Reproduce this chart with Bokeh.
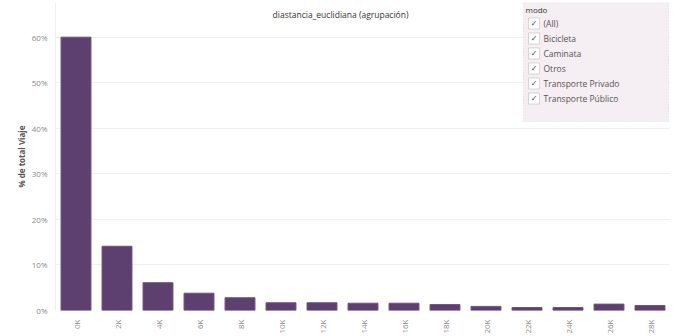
from bokeh.plotting import figure
from bokeh.models import (ColumnDataSource, Label, BoxAnnotation, FixedTicker,
                          PrintfTickFormatter, Range1d)
from bokeh.embed import file_html
from bokeh.resources import INLINE
import math

# ---- data ----
categories = ["0K", "2K", "4K", "6K", "8K", "10K", "12K", "14K", "16K",
              "18K", "20K", "22K", "24K", "26K", "28K"]
pct_viaje = [60.0, 14.1, 6.1, 3.8, 2.8, 1.7, 1.7, 1.6, 1.6,
             1.3, 0.9, 0.65, 0.65, 1.4, 1.1]
y_ticks = [0, 10, 20, 30, 40, 50, 60]
chart_title = "diastancia_euclidiana (agrupación)"
y_title = "% de total Viaje"
legend_title = "modo"
legend_items = ["(All)", "Bicicleta", "Caminata", "Otros",
                "Transporte Privado", "Transporte Público"]

FONT = "Open Sans"
W, H = 673, 336
left, right, top, bottom = 55, 3, 2, 23
frame_h = H - top - bottom
frame_bottom = H - bottom
px_per_pct = 4.6


def sx(x):
    return x - left


def sy(y):
    return frame_bottom - y


src = ColumnDataSource(dict(cat=categories, val=pct_viaje))

p = figure(width=W, height=H, x_range=categories,
           y_range=Range1d(0, frame_h / px_per_pct),
           output_backend="svg", toolbar_location=None,
           min_border_left=left, min_border_right=right,
           min_border_top=top, min_border_bottom=bottom)
p.outline_line_color = None
p.background_fill_color = "white"

p.vbar(x="cat", top="val", width=0.73, source=src,
       fill_color="#5e4070", line_color="#6e5280", line_width=1)

# axes
p.yaxis.ticker = FixedTicker(ticks=y_ticks)
p.yaxis.formatter = PrintfTickFormatter(format="%d%%")
p.yaxis.axis_line_color = "#f0f0f0"
p.yaxis.major_tick_line_color = None
p.yaxis.minor_tick_line_color = None
p.yaxis.major_label_text_font = FONT
p.yaxis.major_label_text_font_size = "8px"
p.yaxis.major_label_text_color = "#8a8a8a"
p.yaxis.major_label_standoff = 2
p.yaxis.axis_label = y_title
p.yaxis.axis_label_text_font = FONT
p.yaxis.axis_label_text_font_size = "8px"
p.yaxis.axis_label_text_font_style = "bold"
p.yaxis.axis_label_text_color = "#555555"
p.yaxis.axis_label_standoff = 2

p.xaxis.axis_line_color = None
p.xaxis.major_tick_line_color = None
p.xaxis.minor_tick_line_color = None
p.xaxis.major_label_orientation = math.pi / 2
p.xaxis.major_label_text_font = FONT
p.xaxis.major_label_text_font_size = "8px"
p.xaxis.major_label_text_color = "#8a8a8a"
p.xaxis.major_label_standoff = 3

p.xgrid.grid_line_color = None
p.ygrid.grid_line_color = "#f0f0f0"
p.ygrid.grid_line_width = 1

# title
p.add_layout(Label(x=sx(340), y=sy(17), x_units="screen", y_units="screen",
                   text=chart_title, text_font=FONT, text_font_size="8.5px",
                   text_color="#333333", text_align="center",
                   text_baseline="middle"))

# legend / filter box
p.add_layout(BoxAnnotation(left=sx(523), right=sx(668), top=sy(3), bottom=sy(124),
                           left_units="screen", right_units="screen",
                           top_units="screen", bottom_units="screen",
                           fill_color="#f5eef2", fill_alpha=1,
                           line_color="#a8a0a5", line_dash="1 2",
                           line_width=1))
p.add_layout(Label(x=sx(525), y=sy(12), x_units="screen", y_units="screen",
                   text=legend_title, text_font=FONT, text_font_size="8px",
                   text_color="#333333", text_baseline="middle"))
for i, item in enumerate(legend_items):
    yc = 26 + i * 15
    p.add_layout(BoxAnnotation(left=sx(528), right=sx(539),
                               top=sy(yc - 5.5), bottom=sy(yc + 5.5),
                               left_units="screen", right_units="screen",
                               top_units="screen", bottom_units="screen",
                               fill_color="white", fill_alpha=1,
                               line_color="#888888", line_width=1))
    p.add_layout(Label(x=sx(533.5), y=sy(yc), x_units="screen", y_units="screen",
                       text="✓", text_font="DejaVu Sans", text_font_size="8px",
                       text_color="#444444", text_align="center",
                       text_baseline="middle"))
    p.add_layout(Label(x=sx(543), y=sy(yc), x_units="screen", y_units="screen",
                       text=item, text_font=FONT, text_font_size="8.5px",
                       text_color="#555555", text_baseline="middle"))

open("out.html", "w").write(file_html(p, INLINE))
